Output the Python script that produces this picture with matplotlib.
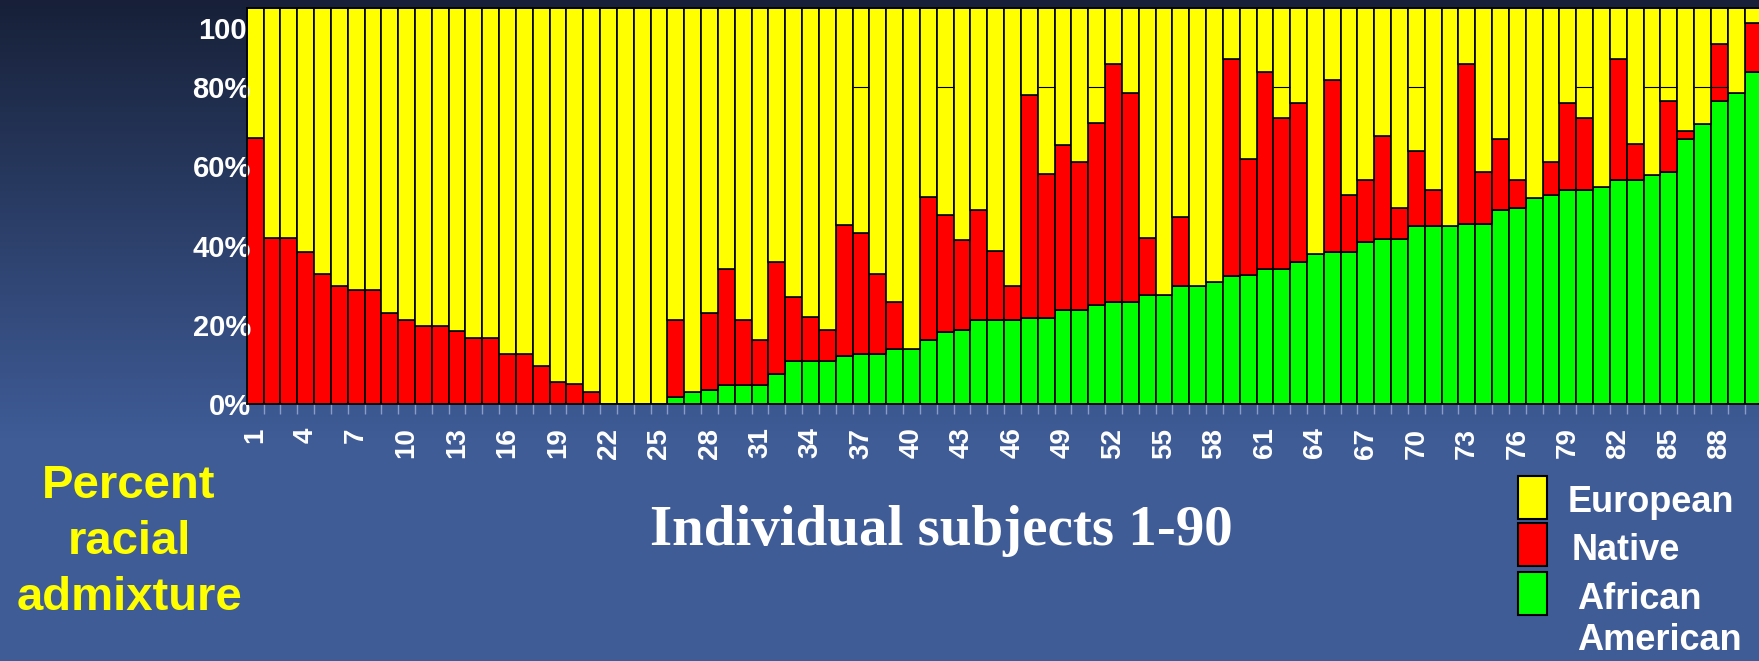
import numpy as np
import matplotlib.pyplot as plt
from matplotlib.patches import Rectangle
from matplotlib.colors import LinearSegmentedColormap

plt.rcParams['font.family'] = ['Liberation Sans', 'DejaVu Sans']

# admixture per subject (percent)
subjects = np.arange(1, 91)
african = [0, 0, 0, 0, 0, 0, 0, 0, 0, 0,
           0, 0, 0, 0, 0, 0, 0, 0, 0, 0,
           0, 0, 0, 0, 0, 1.8, 3.0, 3.6, 4.9, 4.9,
           4.9, 7.7, 10.8, 10.8, 10.8, 12.2, 12.7, 12.7, 14.0, 14.0,
           16.1, 18.1, 18.6, 21.1, 21.1, 21.1, 21.7, 21.7, 23.8, 23.8,
           25.0, 25.7, 25.7, 27.6, 27.6, 29.7, 29.7, 30.9, 32.2, 32.7,
           34.1, 34.1, 35.9, 37.9, 38.5, 38.5, 41.0, 41.7, 41.7, 45.0,
           45.0, 45.0, 45.5, 45.5, 48.9, 49.5, 52.1, 52.7, 54.0, 54.0,
           54.7, 56.5, 56.5, 57.9, 58.5, 66.9, 70.7, 76.6, 78.5, 83.9]
native = [67.1, 41.9, 41.9, 38.5, 32.8, 29.7, 28.8, 28.8, 23.1, 21.1,
          19.8, 19.8, 18.5, 16.6, 16.6, 12.7, 12.7, 9.5, 5.6, 5.0,
          3.0, 0, 0, 0, 0, 19.3, 0, 19.5, 29.3, 16.2,
          11.2, 28.2, 16.2, 11.1, 7.8, 32.9, 30.4, 20.2, 11.7, 0,
          36.1, 29.6, 22.7, 27.9, 17.6, 8.6, 56.3, 36.4, 41.5, 37.4,
          45.9, 60.2, 52.9, 14.3, 0, 17.4, 0, 0, 54.8, 29.2,
          49.8, 38.2, 40.2, 0, 43.3, 14.3, 15.6, 26.0, 7.8, 18.8,
          9.1, 0, 40.4, 13.1, 18.1, 7.1, 0, 8.4, 21.9, 18.2,
          0, 30.5, 9.2, 0, 18.1, 2.1, 0, 14.4, 0, 12.2]
european = 100 - np.array(african) - np.array(native)

tick_subjects = list(range(1, 91, 3))
ytick_vals = [0, 20, 40, 60, 80]
ytick_labels = ['0%', '20%', '40%', '60%', '80%']
grid80_bars = [37, 42, 48, 51, 62, 70, 80, 84, 85, 87, 88]
legend_labels = ['European', 'Native', 'African\nAmerican']
legend_colors = ['#ffff00', '#ff0000', '#00ff00']

W, H = 1759, 661
fig = plt.figure(figsize=(W / 100, H / 100), dpi=100)

# slide background: dark navy fading to blue
bg = fig.add_axes([0, 0, 1, 1], zorder=-10)
grad = np.concatenate([np.linspace(0, 1, 440), np.ones(221)])
cmap = LinearSegmentedColormap.from_list('bg', ['#172038', '#3f5c97'])
bg.imshow(grad[:, None], aspect='auto', cmap=cmap, extent=[0, 1, 0, 1])
bg.axis('off')

ax = fig.add_axes([246.7 / W, 1 - 404 / H, 1514.7 / W, 396 / H])
ax.set_facecolor('none')
ax.bar(subjects, african, width=1, color='#00ff00', edgecolor='black', linewidth=1.2)
ax.bar(subjects, native, width=1, bottom=african, color='#ff0000',
       edgecolor='black', linewidth=1.2)
ax.bar(subjects, european, width=1, bottom=np.array(african) + np.array(native),
       color='#ffff00', edgecolor='black', linewidth=1.2)
for b in grid80_bars:
    ax.hlines(80, b - 0.5, b + 0.5, color='black', linewidth=0.8)

ax.set_xlim(0.5, 90.5)
ax.set_ylim(0, 100)
for s in ax.spines.values():
    s.set_color('black')
    s.set_linewidth(1.2)

ax.set_xticks(tick_subjects)
ax.set_xticklabels([str(t) for t in tick_subjects], rotation=90,
                   fontsize=20, fontweight='bold', color='white')
ax.set_xticks(np.arange(0.5, 91, 1), minor=True)
ax.tick_params(axis='x', which='major', length=0, pad=17)
ax.tick_params(axis='x', which='minor', length=7, width=1, color='#8c9cc8')

ax.set_yticks(ytick_vals)
ax.set_yticklabels(ytick_labels, fontsize=21, fontweight='bold', color='white')
ax.tick_params(axis='y', length=0, pad=-3)
ax.text(0, 94.2, '100', transform=ax.get_yaxis_transform(), ha='right',
        va='center', fontsize=21, fontweight='bold', color='white')

fig.text(129 / W, 1 - 542 / H, 'Percent\nracial\nadmixture', ha='center',
         va='center', color='#ffff00', fontsize=34, fontweight='bold',
         linespacing=1.35)
fig.text(941 / W, 1 - 531 / H, 'Individual subjects 1-90', ha='center',
         va='center', color='white', fontsize=41, fontweight='bold',
         family='Liberation Serif')

# legend drawn by hand, as on the slide
box_tops = [476, 523, 572]
text_pos = [(1568, 502), (1572, 550), (1577, 620)]
for c, top, lab, (tx, ty) in zip(legend_colors, box_tops, legend_labels, text_pos):
    fig.add_artist(Rectangle((1517.7 / W, 1 - (top + 43) / H), 29 / W, 43 / H,
                             transform=fig.transFigure, facecolor=c,
                             edgecolor='black', linewidth=1.5))
    fig.text(tx / W, 1 - ty / H, lab, ha='left', va='center', color='white',
             fontsize=26, fontweight='bold', linespacing=1.2)

fig.savefig('out.png', dpi=100)
